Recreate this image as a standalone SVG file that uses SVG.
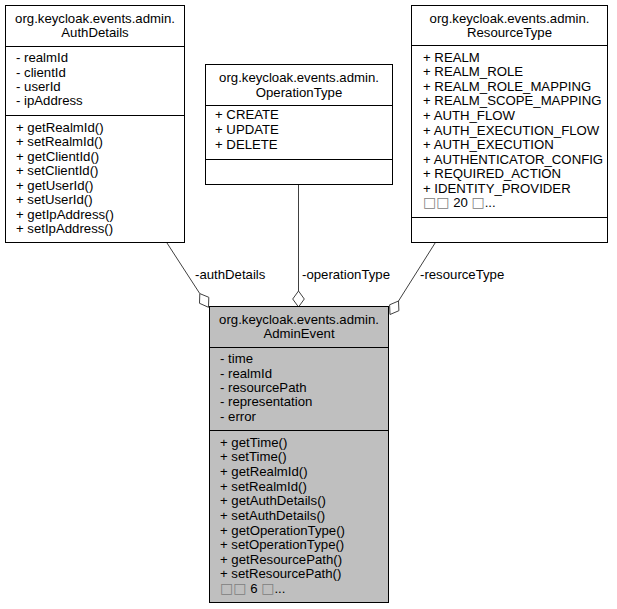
<svg xmlns="http://www.w3.org/2000/svg" width="617" height="609" viewBox="0 0 617 609">
<style>
  .box { fill: #ffffff; stroke: #000000; stroke-width: 1; }
  .main { fill: #bfbfbf; stroke: #000000; stroke-width: 1; }
  .sep { stroke: #000000; stroke-width: 1; }
  text { font-family: "Liberation Sans", Arial, sans-serif; font-size: 13.2px; fill: #000000; }
  .c { text-anchor: middle; }
  .edge { fill: none; stroke: #404040; stroke-width: 1; }
  .dia { fill: #ffffff; stroke: #404040; stroke-width: 1; }
  .tofu { font-family: "DejaVu Sans", sans-serif; font-size: 14px; fill: #808080; }
</style>
<rect width="617" height="609" fill="#ffffff"/>

<g id="connectors">
  <g id="edge-authDetails">
    <line class="edge" x1="167" y1="243" x2="199.8" y2="293.6"/>
    <polygon class="dia" points="199.8,293.6 208.8,297.3 208.5,307.3 199.5,303.3"/>
    <text x="195" y="279">-authDetails</text>
  </g>
  <g id="edge-operationType">
    <line class="edge" x1="298.5" y1="184.5" x2="298.5" y2="291"/>
    <polygon class="dia" points="298.5,291 304.3,299 298.5,307 292.7,299"/>
    <text x="302" y="279">-operationType</text>
  </g>
  <g id="edge-resourceType">
    <line class="edge" x1="435.1" y1="243" x2="398.5" y2="301"/>
    <polygon class="dia" points="398.5,301 398.9,310.7 390,314.5 389.6,304.8"/>
    <text x="420" y="279">-resourceType</text>
  </g>
</g>

<g id="AuthDetails">
  <rect class="box" x="5.5" y="5.5" width="179" height="237"/>
  <line class="sep" x1="5.5" y1="46.5" x2="184.5" y2="46.5"/>
  <line class="sep" x1="5.5" y1="115.5" x2="184.5" y2="115.5"/>
  <text class="c" x="95" y="23">org.keycloak.events.admin.</text>
  <text class="c" x="95" y="37.3">AuthDetails</text>
  <text x="16" y="62.3">- realmId</text>
  <text x="16" y="76.6">- clientId</text>
  <text x="16" y="90.9">- userId</text>
  <text x="16" y="105.2">- ipAddress</text>
  <text x="16" y="131.7">+ getRealmId()</text>
  <text x="16" y="146.2">+ setRealmId()</text>
  <text x="16" y="160.7">+ getClientId()</text>
  <text x="16" y="175.2">+ setClientId()</text>
  <text x="16" y="189.7">+ getUserId()</text>
  <text x="16" y="204.2">+ setUserId()</text>
  <text x="16" y="218.7">+ getIpAddress()</text>
  <text x="16" y="233.2">+ setIpAddress()</text>
</g>

<g id="OperationType">
  <rect class="box" x="205.5" y="64.5" width="187" height="120"/>
  <line class="sep" x1="205.5" y1="105.5" x2="392.5" y2="105.5"/>
  <line class="sep" x1="205.5" y1="159.5" x2="392.5" y2="159.5"/>
  <text class="c" x="299" y="82">org.keycloak.events.admin.</text>
  <text class="c" x="299" y="96.5">OperationType</text>
  <text x="215" y="119.3">+ CREATE</text>
  <text x="215" y="134.1">+ UPDATE</text>
  <text x="215" y="148.9">+ DELETE</text>
</g>

<g id="ResourceType">
  <rect class="box" x="411.5" y="5.5" width="196" height="237"/>
  <line class="sep" x1="411.5" y1="45.5" x2="607.5" y2="45.5"/>
  <line class="sep" x1="411.5" y1="217.5" x2="607.5" y2="217.5"/>
  <text class="c" x="509.5" y="23">org.keycloak.events.admin.</text>
  <text class="c" x="509.5" y="37.3">ResourceType</text>
  <text x="423" y="61.7">+ REALM</text>
  <text x="423" y="76.3">+ REALM_ROLE</text>
  <text x="423" y="90.8">+ REALM_ROLE_MAPPING</text>
  <text x="423" y="105.4">+ REALM_SCOPE_MAPPING</text>
  <text x="423" y="120">+ AUTH_FLOW</text>
  <text x="423" y="134.6">+ AUTH_EXECUTION_FLOW</text>
  <text x="423" y="149.1">+ AUTH_EXECUTION</text>
  <text x="423" y="163.7">+ AUTHENTICATOR_CONFIG</text>
  <text x="423" y="178.3">+ REQUIRED_ACTION</text>
  <text x="423" y="192.8">+ IDENTITY_PROVIDER</text>
  <text x="423" y="207.4"><tspan class="tofu">□□</tspan> 20 <tspan class="tofu">□</tspan>...</text>
</g>

<g id="AdminEvent">
  <rect class="main" x="209.5" y="306.5" width="179" height="296"/>
  <line class="sep" x1="209.5" y1="347.5" x2="388.5" y2="347.5"/>
  <line class="sep" x1="209.5" y1="430.5" x2="388.5" y2="430.5"/>
  <text class="c" x="299" y="324">org.keycloak.events.admin.</text>
  <text class="c" x="299" y="338.3">AdminEvent</text>
  <text x="220" y="363.3">- time</text>
  <text x="220" y="377.6">- realmId</text>
  <text x="220" y="391.9">- resourcePath</text>
  <text x="220" y="406.2">- representation</text>
  <text x="220" y="420.5">- error</text>
  <text x="220" y="446.7">+ getTime()</text>
  <text x="220" y="461.3">+ setTime()</text>
  <text x="220" y="476">+ getRealmId()</text>
  <text x="220" y="490.6">+ setRealmId()</text>
  <text x="220" y="505.2">+ getAuthDetails()</text>
  <text x="220" y="519.9">+ setAuthDetails()</text>
  <text x="220" y="534.5">+ getOperationType()</text>
  <text x="220" y="549.1">+ setOperationType()</text>
  <text x="220" y="563.7">+ getResourcePath()</text>
  <text x="220" y="578.4">+ setResourcePath()</text>
  <text x="220" y="593"><tspan class="tofu">□□</tspan> 6 <tspan class="tofu">□</tspan>...</text>
</g>
</svg>
